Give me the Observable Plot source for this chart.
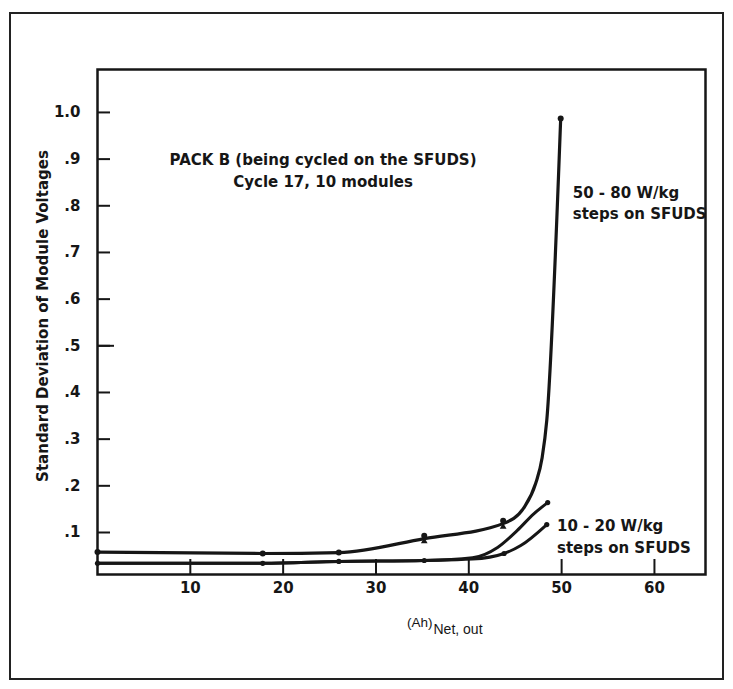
<!DOCTYPE html>
<html>
<head>
<meta charset="utf-8">
<script src="https://cdn.jsdelivr.net/npm/d3@7"></script>
<script src="https://cdn.jsdelivr.net/npm/@observablehq/plot@0.6"></script>
<style>
  html, body { margin: 0; padding: 0; background: #fff; }
  #wrap { position: relative; width: 733px; height: 689px; }
  #border { position: absolute; left: 9px; top: 12px; width: 711px; height: 664px; border: 2px solid #222; box-sizing: content-box; pointer-events: none; }
</style>
</head>
<body>
<div id="wrap"><div id="border"></div><div id="chart"></div></div>
<script>
// 50 - 80 W/kg curve (line points)
const curveA_x = [0, 17.8, 26, 35.2, 43.7, 46.0, 47.2, 47.9, 48.4, 49.9];
const curveA_y = [0.058, 0.055, 0.057, 0.087, 0.119, 0.155, 0.205, 0.26, 0.34, 0.987];
const markA_x = [0, 17.8, 26, 35.2, 43.7, 49.9];
const markA_y = [0.058, 0.055, 0.057, 0.093, 0.125, 0.987];
// 10 - 20 W/kg, upper branch
const curveB_x = [0, 17.8, 26, 35.2, 40.4, 43.1, 45.2, 47.0, 48.5];
const curveB_y = [0.034, 0.034, 0.038, 0.04, 0.046, 0.068, 0.104, 0.14, 0.164];
// 10 - 20 W/kg, lower branch
const curveC_x = [0, 17.8, 26, 35.2, 40.4, 43.8, 45.6, 48.4];
const curveC_y = [0.034, 0.034, 0.038, 0.04, 0.043, 0.055, 0.072, 0.117];
const markLow_x = [0, 17.8, 26, 35.2, 43.8, 48.5, 48.4];
const markLow_y = [0.034, 0.034, 0.038, 0.04, 0.055, 0.164, 0.117];
const triangle_x = [35.2, 43.7];
const triangle_y = [0.081, 0.112];

const xTicks = [10, 20, 30, 40, 50, 60];
const yTicks = [0.1, 0.2, 0.3, 0.4, 0.5, 0.6, 0.7, 0.8, 0.9, 1.0];
const yTickLabels = [".1", ".2", ".3", ".4", ".5", ".6", ".7", ".8", ".9", "1.0"];
const yLongTick = [0.5];

const yLabel = "Standard Deviation of Module Voltages";
const xLabelMain = "(Ah)";
const xLabelSub = "Net, out";
const packNote = "PACK B (being cycled on the SFUDS)\nCycle 17, 10 modules";
const highNote = "50 - 80 W/kg\nsteps on SFUDS";
const lowNote = "10 - 20 W/kg\nsteps on SFUDS";

const toRows = (xs, ys) => xs.map((x, i) => ({x, y: ys[i]}));
const A = toRows(curveA_x, curveA_y);
const B = toRows(curveB_x, curveB_y);
const C = toRows(curveC_x, curveC_y);
const MA = toRows(markA_x, markA_y);
const ML = toRows(markLow_x, markLow_y);
const TR = toRows(triangle_x, triangle_y);

const ink = "#161616";
const heavy = "'DejaVu Sans', 'Liberation Sans', Arial, sans-serif";
const plain = "'Liberation Sans', Arial, sans-serif";

const chart = Plot.plot({
  width: 733,
  height: 689,
  marginLeft: 97,
  marginRight: 28,
  marginTop: 69,
  marginBottom: 115,
  x: {domain: [0, 65.5]},
  y: {domain: [0.01, 1.092]},
  style: {fontFamily: heavy, background: "transparent", color: ink},
  marks: [
    Plot.frame({stroke: ink, strokeWidth: 2.5}),
    Plot.axisY(yTicks, {
      tickSize: -13, tickPadding: 30, strokeWidth: 2,
      tickFormat: (d) => yTickLabels[yTicks.indexOf(d)],
      fontSize: 15, fontWeight: "bold", label: null
    }),
    Plot.axisY(yLongTick, {tickSize: -17, strokeWidth: 2, tickFormat: () => "", label: null}),
    Plot.axisX(xTicks, {
      tickSize: -15, tickPadding: 23, strokeWidth: 2,
      tickFormat: (d) => String(d),
      fontSize: 15, fontWeight: "bold", label: null
    }),
    Plot.line(A, {x: "x", y: "y", curve: "monotone-x", stroke: ink, strokeWidth: 3.2}),
    Plot.line(B, {x: "x", y: "y", curve: "monotone-x", stroke: ink, strokeWidth: 3}),
    Plot.line(C, {x: "x", y: "y", curve: "monotone-x", stroke: ink, strokeWidth: 3}),
    Plot.dot(MA, {x: "x", y: "y", r: 3, fill: ink}),
    Plot.dot(ML, {x: "x", y: "y", r: 2.6, fill: ink}),
    Plot.dot(TR, {x: "x", y: "y", r: 2.5, symbol: "triangle", fill: ink}),
    Plot.text([packNote], {x: 24.3, y: 0.879, text: (d) => d, textAnchor: "middle", lineAnchor: "middle", lineHeight: 1.5, fontSize: 15, fontWeight: "bold", fill: ink}),
    Plot.text([highNote], {x: 51.2, y: 0.809, text: (d) => d, textAnchor: "start", lineAnchor: "middle", lineHeight: 1.45, fontSize: 15, fontWeight: "bold", fill: ink}),
    Plot.text([lowNote], {x: 49.5, y: 0.095, text: (d) => d, textAnchor: "start", lineAnchor: "middle", lineHeight: 1.45, fontSize: 15, fontWeight: "bold", fill: ink}),
    Plot.text([yLabel], {frameAnchor: "left", text: (d) => d, textAnchor: "middle", rotate: -90, dx: -54, dy: -6, fontSize: 15, fontWeight: "bold", fill: ink}),
    Plot.text([xLabelMain], {frameAnchor: "bottom", text: (d) => d, textAnchor: "end", dx: 31, dy: 52, fontSize: 13.5, fontFamily: plain, fill: ink}),
    Plot.text([xLabelSub], {frameAnchor: "bottom", text: (d) => d, textAnchor: "start", dx: 32, dy: 59, fontSize: 14, fontFamily: plain, fill: ink})
  ]
});
document.getElementById("chart").appendChild(chart);
</script>
</body>
</html>
